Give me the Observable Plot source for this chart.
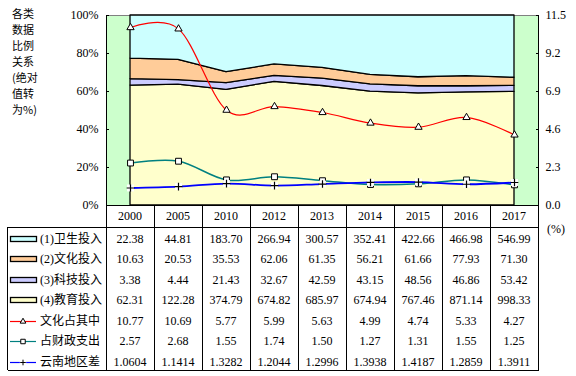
<!DOCTYPE html>
<html><head><meta charset="utf-8">
<script src="https://cdn.jsdelivr.net/npm/d3@7"></script>
<script src="https://cdn.jsdelivr.net/npm/@observablehq/plot@0.6"></script>
<style>html,body{margin:0;padding:0;background:#fff} svg{display:block}</style>
</head><body><div id="chart"></div>
<script>
// ---- data ----
const years = ["2000","2005","2010","2012","2013","2014","2015","2016","2017"];
const health = [22.38,44.81,183.70,266.94,300.57,352.41,422.66,466.98,546.99];
const culture = [10.63,20.53,35.53,62.06,61.35,56.21,61.66,77.93,71.30];
const science = [3.38,4.44,21.43,32.67,42.59,43.15,48.56,46.86,53.42];
const education = [62.31,122.28,374.79,674.82,685.97,674.94,767.46,871.14,998.33];
const cultureShare = [10.77,10.69,5.77,5.99,5.63,4.99,4.74,5.33,4.27];
const fiscalShare = [2.57,2.68,1.55,1.74,1.50,1.27,1.31,1.55,1.25];
const regionGap = [1.0604,1.1414,1.3282,1.2044,1.2996,1.3938,1.4187,1.2859,1.3911];
const rightMax = 11.5;
const leftTicks = [0,0.2,0.4,0.6,0.8,1];
const titleLines = ["各类","数据","比例","关系","(绝对","值转","为%)"];
const rightUnit = "(%)";

// series definitions (stack order bottom -> top)
const areaSeries = [
  {name:"(4)教育投入", values: education, color:"#FFFFCC", digits:2},
  {name:"(3)科技投入", values: science, color:"#CCCCFF", digits:2},
  {name:"(2)文化投入", values: culture, color:"#FFCC99", digits:2},
  {name:"(1)卫生投入", values: health, color:"#CCFFFF", digits:2}
];
const lineSeries = [
  {name:"文化占其中", values: cultureShare, color:"#FF0000", width:1.2, symbol:"triangle", digits:2},
  {name:"占财政支出", values: fiscalShare, color:"#008080", width:1.5, symbol:"square", digits:2},
  {name:"云南地区差", values: regionGap, color:"#0000FF", width:1.8, symbol:"plus", digits:4}
];

const areaData = areaSeries.flatMap(s => years.map((y,i) => ({year:y, series:s.name, value:s.values[i]})));
const lineData = lineSeries.map(s => years.map((y,i) => ({year:y, v:s.values[i]/rightMax})));

const serif = "'Liberation Serif','Times New Roman','Noto Sans CJK SC',serif";

const marks = [
  Plot.frame({fill:"#CCFFCC", stroke:"black"}),
  Plot.ruleY([1], {stroke:"#808080"}),
  Plot.areaY(areaData, {x:"year", y:"value", z:"series", fill:"series", stroke:"black", strokeWidth:1.3, offset:"normalize", order:null}),
  Plot.axisY(leftTicks, {anchor:"left", tickSize:-3, tickPadding:11, label:null, tickFormat:d => Math.round(d*100)+"%"}),
  Plot.axisY(leftTicks, {anchor:"right", tickSize:-3, tickPadding:10, label:null, tickFormat:d => (d*rightMax).toFixed(1)})
];
lineSeries.forEach((s,k) => {
  marks.push(Plot.line(lineData[k], {x:"year", y:"v", stroke:s.color, strokeWidth:s.width, curve:"cardinal", tension:0}));
});
lineSeries.forEach((s,k) => {
  if (s.symbol === "triangle") marks.push(Plot.dot(lineData[k], {x:"year", y:"v", symbol:"triangle", r:2.7, fill:"white", stroke:"black", strokeWidth:1}));
  if (s.symbol === "square") marks.push(Plot.dot(lineData[k], {x:"year", y:"v", symbol:"square", r:3.3, fill:"white", stroke:"black", strokeWidth:1}));
  if (s.symbol === "plus") {
    marks.push(Plot.dot(lineData[k], {x:"year", y:"v", symbol:"square", r:3.9, fill:"white", stroke:"none"}));
    marks.push(Plot.dot(lineData[k], {x:"year", y:"v", symbol:"plus", r:2.6, stroke:"black", strokeWidth:1.2}));
  }
});

const W = 576, H = 376, mL = 106, mR = 38, mT = 15, mB = 171;
const plot = Plot.plot({
  width: W, height: H,
  marginLeft: mL, marginRight: mR, marginTop: mT, marginBottom: mB,
  style: {fontFamily: serif, fontSize: "12px", background: "white", color: "black", overflow: "visible"},
  x: {type:"point", domain: years, padding: 0.5, axis: null},
  y: {domain: [0,1], axis: null},
  color: {domain: areaSeries.map(s => s.name), range: areaSeries.map(s => s.color)},
  marks
});
document.getElementById("chart").appendChild(plot);

// ---- data table and annotations (positions from Plot's x scale) ----
const svg = d3.select(plot);
const xs = plot.scale("x");
const X = y => xs.apply(y);
const step = X(years[1]) - X(years[0]);
const plotBottom = H - mB;
const bounds = years.map(y => X(y) - step/2).concat([X(years[years.length-1]) + step/2]);
const tableLeft = 7, tableTop = 227, tableBottom = 370;
const rowY = i => 238.5 + i*20.55;
const g = svg.append("g").attr("shape-rendering","crispEdges").attr("stroke","black").attr("fill","none");
bounds.forEach(b => g.append("line").attr("x1", Math.round(b)+0.5).attr("x2", Math.round(b)+0.5).attr("y1", plotBottom).attr("y2", tableBottom));
g.append("line").attr("x1", tableLeft+0.5).attr("x2", Math.round(bounds[bounds.length-1])+0.5).attr("y1", tableTop+0.5).attr("y2", tableTop+0.5);
g.append("line").attr("x1", tableLeft+0.5).attr("x2", Math.round(bounds[bounds.length-1])+0.5).attr("y1", tableBottom+0.5).attr("y2", tableBottom+0.5);
g.append("line").attr("x1", tableLeft+0.5).attr("x2", tableLeft+0.5).attr("y1", tableTop).attr("y2", tableBottom);

const t = svg.append("g").attr("font-family", serif).attr("font-size", 12).attr("fill","black");
years.forEach(y => t.append("text").attr("x", X(y)).attr("y", 216).attr("dy","0.35em").attr("text-anchor","middle").text(y));

const tableRows = [...areaSeries].reverse().map(s => ({...s, kind:"area"})).concat(lineSeries.map(s => ({...s, kind:"line"})));
tableRows.forEach((r,i) => {
  const cy = rowY(i);
  years.forEach((y,j) => t.append("text").attr("x", X(y)).attr("y", cy).attr("dy","0.35em").attr("text-anchor","middle").text(r.values[j].toFixed(r.digits)));
  t.append("text").attr("x", 40).attr("y", cy).attr("dy","0.35em").attr("text-anchor","start").text(r.name);
  if (r.kind === "area") {
    svg.append("rect").attr("x",10.5).attr("y",Math.round(cy)-3+0.5).attr("width",26).attr("height",5).attr("fill",r.color).attr("stroke","black").attr("stroke-width",1.3);
  } else {
    svg.append("line").attr("x1",10).attr("x2",36).attr("y1",Math.round(cy)+0.5).attr("y2",Math.round(cy)+0.5).attr("stroke",r.color).attr("stroke-width",1.2);
    const mx = 23, my = Math.round(cy)+0.5;
    if (r.symbol === "triangle") svg.append("path").attr("d", d3.symbol(d3.symbolTriangle, 14)()).attr("transform",`translate(${mx},${my})`).attr("fill","white").attr("stroke","black");
    if (r.symbol === "square") svg.append("path").attr("d", d3.symbol(d3.symbolSquare, 20)()).attr("transform",`translate(${mx},${my})`).attr("fill","white").attr("stroke","black");
    if (r.symbol === "plus") {
      svg.append("path").attr("d", d3.symbol(d3.symbolSquare, 40)()).attr("transform",`translate(${mx},${my})`).attr("fill","white");
      svg.append("path").attr("d", d3.symbol(d3.symbolPlus, 12)()).attr("transform",`translate(${mx},${my})`).attr("fill","none").attr("stroke","black");
    }
  }
});

// left title (stacked short lines) and right unit
titleLines.forEach((s,i) => t.append("text").attr("x", 12).attr("y", 14.5 + i*16).attr("dy","0.35em").attr("text-anchor","start").attr("font-size", 11).attr("font-family","'Noto Sans CJK SC','Liberation Serif',sans-serif").text(s));
t.append("text").attr("x", 547).attr("y", 229).attr("dy","0.35em").attr("text-anchor","start").text(rightUnit);
</script>
</body></html>
